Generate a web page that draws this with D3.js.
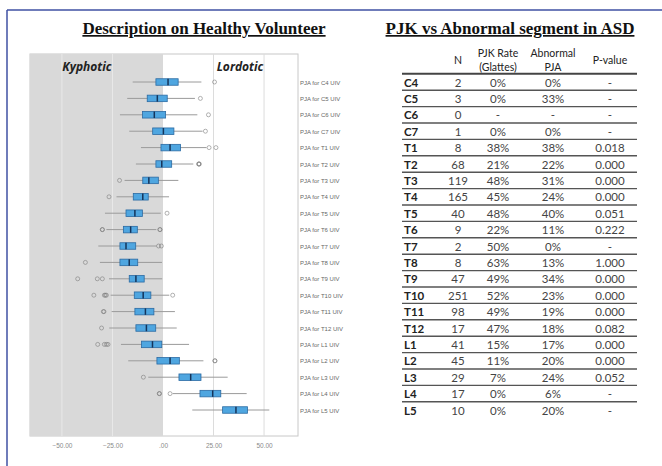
<!DOCTYPE html>
<html>
<head>
<meta charset="utf-8">
<script src="https://cdn.jsdelivr.net/npm/d3@7"></script>
<style>
  html, body { margin: 0; padding: 0; background: #fff; }
  svg { display: block; }
</style>
</head>
<body>
<svg id="chart" width="662" height="466"></svg>
<script>
// Upper instrumented vertebra levels
const levels = ["C4","C5","C6","C7","T1","T2","T3","T4","T5","T6","T7","T8","T9","T10","T11","T12","L1","L2","L3","L4","L5"];

// PJA distribution in healthy volunteers (degrees): whisker ends, quartiles, median
const whiskerLow  = [-15, -17.7, -21.3, -16.7, -10.9, -13.4, -19, -23, -28.7, -28, -32, -31.2, -26.7, -25.9, -25.4, -26.6, -20.8, -17.2, -7.3, 4.8, 14.5];
const quartile1   = [-3.5, -7.8, -10.1, -5.1, -1, -3.5, -10, -14.7, -18.3, -19.6, -21.3, -21.3, -16.7, -14.2, -13.9, -13.4, -10.6, -3, 7.9, 18.3, 29.5];
const medians     = [2.5, -2.8, -4.3, 0.2, 3.5, -0.6, -7, -10, -13.9, -16, -18.3, -16.7, -13.4, -9.8, -8.7, -8.2, -5.2, 3.5, 13.7, 24.6, 36.1];
const quartile3   = [7.5, 2.1, 1.3, 5.4, 8.7, 4.3, -2.3, -7.3, -10.2, -12.7, -13.5, -12.5, -9.3, -6, -4.5, -3.6, -0.6, 8.1, 18.8, 28.6, 41.8];
const whiskerHigh = [19, 15.8, 17, 19.6, 21.5, 15, 7.6, 3, -1.1, -3.3, -3.2, -0.5, -0.4, 3.1, 5.9, 6.8, 12.9, 20, 32, 41.4, 52.6];
const outliers = [
  [25.5], [18.5], [22.5], [21], [22.8, 26.2], [17.7, 17.7, 18],
  [-21.5], [-26.7], [2], [-30, -30, -1.5, -1.5], [-2.2, -0.8], [-38.4],
  [-42.2, -32.5, -30], [-34.2, -29, -28.5, -28, 4.8], [-29.5, -29.2], [-30.4],
  [-32.3, -29, -28, -27.2], [25.7, 25.7], [-9.7], [-1.8, -1.8, 3.5], []
];
const axisTicks = [-50, -25, 0, 25, 50];

// ASD cohort table
const tableN      = ["2","3","0","1","8","68","119","165","40","9","2","8","47","251","98","17","41","45","29","17","10"];
const pjkRate     = ["0%","0%","-","0%","38%","21%","48%","45%","48%","22%","50%","63%","49%","52%","49%","47%","15%","11%","7%","0%","0%"];
const abnormalPja = ["0%","33%","-","0%","38%","22%","31%","24%","40%","11%","0%","13%","34%","23%","19%","18%","17%","20%","24%","6%","20%"];
const pValues     = ["-","-","-","-","0.018","0.000","0.000","0.000","0.051","0.222","-","1.000","0.000","0.000","0.000","0.082","0.000","0.000","0.052","-","-"];

const svg = d3.select("#chart");

// page frame
svg.append("line").attr("x1", 7).attr("y1", 10).attr("x2", 662).attr("y2", 10)
  .attr("stroke", "#3f51a3").attr("stroke-width", 1.5);
svg.append("line").attr("x1", 7).attr("y1", 10).attr("x2", 7).attr("y2", 466)
  .attr("stroke", "#3f51a3").attr("stroke-width", 1.5);

// titles
const titleFont = "'Liberation Serif', 'Times New Roman', serif";
svg.append("text").attr("x", 204).attr("y", 34).attr("text-anchor", "middle")
  .attr("font-family", titleFont).attr("font-weight", "bold").attr("font-size", 17)
  .attr("fill", "#111").attr("text-decoration", "underline")
  .text("Description on Healthy Volunteer");
svg.append("text").attr("x", 510).attr("y", 34).attr("text-anchor", "middle")
  .attr("font-family", titleFont).attr("font-weight", "bold").attr("font-size", 17)
  .attr("fill", "#111").attr("text-decoration", "underline")
  .text("PJK vs Abnormal segment in ASD");

// ---------- box plot ----------
const plotL = 30, plotR = 298, plotT = 54, plotB = 436;
const x = d3.scaleLinear().domain([-65.8, 66.8]).range([plotL, plotR]);
const y = d3.scalePoint().domain(levels).range([82, 410]);

const plot = svg.append("g");
plot.append("rect").attr("x", plotL).attr("y", plotT)
  .attr("width", plotR - plotL).attr("height", plotB - plotT)
  .attr("fill", "#fff").attr("stroke", "#c8c8c8");
plot.append("rect").attr("x", plotL).attr("y", plotT)
  .attr("width", x(0) - plotL).attr("height", plotB - plotT)
  .attr("fill", "#d9d9d9");

// vertical grid
plot.selectAll("line.grid").data(axisTicks.filter(d => d !== 0)).join("line")
  .attr("class", "grid")
  .attr("x1", d => x(d)).attr("x2", d => x(d))
  .attr("y1", plotT).attr("y2", plotB)
  .attr("stroke", d => d < 0 ? "#e8e8e8" : "#dcdcdc").attr("stroke-width", 1);

// region labels
svg.append("text").attr("x", 87).attr("y", 71).attr("text-anchor", "middle")
  .attr("font-family", "'Open Sans', sans-serif").attr("font-style", "italic")
  .attr("font-weight", "bold").attr("font-size", 12).attr("fill", "#222").text("Kyphotic");
svg.append("text").attr("x", 240).attr("y", 71).attr("text-anchor", "middle")
  .attr("font-family", "'Open Sans', sans-serif").attr("font-style", "italic")
  .attr("font-weight", "bold").attr("font-size", 12).attr("fill", "#222").text("Lordotic");

// x axis
const xAxis = d3.axisBottom(x).tickValues(axisTicks).tickSize(0)
  .tickFormat(d => d === 0 ? ".00" : d3.format(".2f")(d));
const ax = svg.append("g").attr("transform", `translate(0,${plotB + 4})`).call(xAxis);
ax.select(".domain").remove();
ax.selectAll("text").attr("font-family", "'Liberation Sans', Arial, sans-serif")
  .attr("font-size", 6.5).attr("fill", "#8a8a8a");

// boxes
const rows = levels.map((lv, i) => ({
  lv, lo: whiskerLow[i], q1: quartile1[i], med: medians[i], q3: quartile3[i],
  hi: whiskerHigh[i], out: outliers[i]
}));
const bh = 6.5;
const g = plot.selectAll("g.row").data(rows).join("g").attr("class", "row")
  .attr("transform", d => `translate(0,${y(d.lv)})`);
g.append("line").attr("x1", d => x(d.lo)).attr("x2", d => x(d.hi))
  .attr("stroke", "#9a9a9a").attr("stroke-width", 1);
g.append("rect").attr("x", d => x(d.q1)).attr("y", -bh / 2)
  .attr("width", d => x(d.q3) - x(d.q1)).attr("height", bh)
  .attr("fill", "#4fa6e0").attr("stroke", "#2a6aa3").attr("stroke-width", 0.8);
g.append("line").attr("x1", d => x(d.med)).attr("x2", d => x(d.med))
  .attr("y1", -bh / 2).attr("y2", bh / 2)
  .attr("stroke", "#15345a").attr("stroke-width", 1.5);
g.selectAll("circle").data(d => d.out).join("circle")
  .attr("cx", d => x(d)).attr("cy", 0).attr("r", 2)
  .attr("fill", "none").attr("stroke", "#777").attr("stroke-opacity", 0.7).attr("stroke-width", 0.8);

// row labels
svg.selectAll("text.rowlab").data(levels).join("text").attr("class", "rowlab")
  .attr("x", 300).attr("y", d => y(d) + 2.5)
  .attr("font-family", "'Liberation Sans', Arial, sans-serif").attr("font-size", 6)
  .attr("fill", "#666").text(d => `PJA for ${d} UIV`);

// ---------- table ----------
const tFont = "Lato, 'Open Sans', sans-serif";
const tableL = 402, tableR = 637;
const cols = [
  { x: 458, vals: tableN },
  { x: 498, vals: pjkRate },
  { x: 553, vals: abnormalPja },
  { x: 610, vals: pValues }
];
const header = svg.append("g").attr("font-family", tFont).attr("font-size", 10.5)
  .attr("fill", "#222").attr("text-anchor", "middle");
header.append("text").attr("x", 458).attr("y", 64).text("N");
header.append("text").attr("x", 498).attr("y", 57).text("PJK Rate");
header.append("text").attr("x", 498).attr("y", 71).text("(Glattes)");
header.append("text").attr("x", 553).attr("y", 57).text("Abnormal");
header.append("text").attr("x", 553).attr("y", 71).text("PJA");
header.append("text").attr("x", 610).attr("y", 64).text("P-value");

const step = y.step();
svg.append("line").attr("x1", tableL).attr("x2", tableR)
  .attr("y1", y(levels[0]) - step / 2).attr("y2", y(levels[0]) - step / 2)
  .attr("stroke", "#444").attr("stroke-width", 2);
svg.selectAll("line.rule").data(levels.slice(0, -1)).join("line").attr("class", "rule")
  .attr("x1", tableL).attr("x2", tableR)
  .attr("y1", d => y(d) + step / 2).attr("y2", d => y(d) + step / 2)
  .attr("stroke", "#555").attr("stroke-width", 1.4);

svg.selectAll("text.lvl").data(levels).join("text").attr("class", "lvl")
  .attr("x", 404).attr("y", d => y(d) + 4.5)
  .attr("font-family", tFont).attr("font-weight", "bold").attr("font-size", 11.5)
  .attr("fill", "#222").text(d => d);

cols.forEach(c => {
  svg.selectAll(null).data(levels).join("text")
    .attr("x", c.x).attr("y", d => y(d) + 4.5).attr("text-anchor", "middle")
    .attr("font-family", tFont).attr("font-size", 11.5).attr("fill", "#444")
    .text((d, i) => c.vals[i]);
});
</script>
</body>
</html>
